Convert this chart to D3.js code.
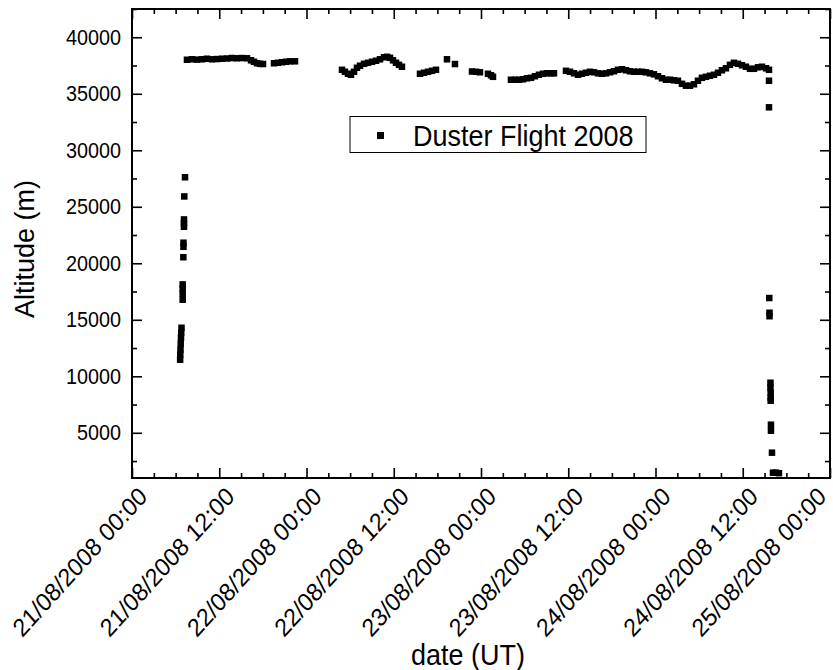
<!DOCTYPE html>
<html>
<head>
<meta charset="utf-8">
<script src="https://cdn.jsdelivr.net/npm/d3@7"></script>
<style>
  html, body { margin: 0; padding: 0; background: #fff; }
  text { font-family: "Liberation Sans", Arial, sans-serif; fill: #000; }
</style>
</head>
<body>
<svg id="chart" width="833" height="670"></svg>
<script>
// ---- data: hours after 21/08/2008 00:00 UT, altitude in metres ----
const hours = [
  // ascent
  6.62, 6.64, 6.67, 6.70, 6.74, 6.77, 6.81, 6.97, 6.97, 6.97, 6.97, 7.06, 7.08, 7.08, 7.15, 7.15, 7.15, 7.19, 7.29,
  // cruise day 1
  7.56, 8.25, 8.94, 9.63, 10.31, 11.00, 11.69, 12.38, 13.07, 13.75, 14.44, 15.13, 15.82, 16.37, 16.78, 17.19, 17.60, 18.02,
  19.53, 20.08, 20.63, 21.18, 21.73, 22.42,
  // day 2
  28.88, 29.29, 29.71, 30.12, 30.53, 30.94, 31.36, 31.91, 32.46, 33.01, 33.56, 34.11, 34.66, 35.07, 35.48, 35.90, 36.31, 36.72, 37.13,
  39.61, 40.16, 40.71, 41.26, 41.81,
  43.32, 44.42,
  46.76, 47.31, 47.86, 48.96, 49.37, 49.65,
  52.12, 52.67, 53.22, 53.77, 54.32, 54.88, 55.42, 55.97, 56.53, 57.07, 57.62, 58.04,
  // day 3 - 4
  59.69, 60.24, 60.79, 61.34, 61.89, 62.44, 62.99, 63.54, 64.09, 64.64, 65.19, 65.74, 66.29, 66.84, 67.39, 67.94,
  68.49, 69.04, 69.59, 70.14, 70.69, 71.24, 71.79, 72.34, 72.89, 73.44, 73.99, 74.54, 75.09, 75.64, 76.19, 76.74,
  77.29, 77.84, 78.39, 78.94, 79.49, 80.04, 80.59, 81.14, 81.69, 82.24, 82.79, 83.34, 83.89, 84.44, 84.99, 85.54,
  86.09, 86.64, 87.19, 87.61,
  // descent
  87.61, 87.61, 87.65, 87.68, 87.68, 87.81, 87.81, 87.84, 87.84, 87.84, 87.88, 87.88, 88.02, 88.16, 88.57, 88.98
];
const altitude = [
  11465, 11910, 12350, 12880, 13410, 13855, 14295, 16775, 17305, 17750, 18130, 20535, 21460, 21820, 23230, 23540, 23880, 25915, 27610,
  38010, 38050, 38020, 38050, 38100, 38050, 38070, 38100, 38120, 38160, 38140, 38160, 38140, 37960, 37830, 37700, 37650, 37630,
  37700, 37740, 37790, 37830, 37870, 37870,
  37120, 36945, 36770, 36680, 36945, 37300, 37480, 37650, 37740, 37830, 37920, 38050, 38230, 38270, 38180, 37960, 37740, 37560, 37390,
  36770, 36860, 36945, 37030, 37120,
  38050, 37630,
  36970, 36945, 36900, 36770, 36635, 36500,
  36240, 36240, 36240, 36280, 36370, 36410, 36550, 36680, 36770, 36810, 36810, 36810,
  37030, 36945, 36810, 36680, 36770, 36860, 36945, 36900, 36810, 36770, 36810, 36900, 36990, 37120, 37170, 37080,
  36990, 36945, 36945, 36945, 36900, 36810, 36720, 36550, 36370, 36240, 36240, 36190, 36150, 35880, 35710, 35710,
  35840, 36150, 36410, 36500, 36590, 36680, 36860, 37080, 37255, 37560, 37740, 37650, 37520, 37390, 37210, 37210,
  37340, 37390, 37255, 37120,
  36150, 33800, 16925, 15625, 15315, 9430, 8990, 8545, 8105, 7840, 5715, 5185, 3240, 1470, 1470, 1425
];
const xTickHours = [0, 12, 24, 36, 48, 60, 72, 84, 96];
const xTickLabels = ["21/08/2008 00:00", "21/08/2008 12:00", "22/08/2008 00:00", "22/08/2008 12:00",
  "23/08/2008 00:00", "23/08/2008 12:00", "24/08/2008 00:00", "24/08/2008 12:00", "25/08/2008 00:00"];
const yTicks = [5000, 10000, 15000, 20000, 25000, 30000, 35000, 40000];
const yDomain = [1000, 42500];
const seriesName = "Duster Flight 2008";
const xTitle = "date (UT)";
const yTitle = "Altitude (m)";

// ---- layout ----
const t0 = Date.UTC(2008, 7, 21, 0, 0, 0);
const toDate = h => new Date(t0 + h * 3600 * 1000);
const L = 132, R = 830, T = 9, B = 478;
const SX = 0.9; // horizontal text compression of the original
const svg = d3.select("#chart");

const x = d3.scaleUtc().domain([toDate(0), toDate(96)]).range([L, R]);
const y = d3.scaleLinear().domain(yDomain).range([B, T]);

const majorX = xTickHours.map(toDate);
const minorX = d3.range(0, 97, 3).filter(h => h % 12 !== 0).map(toDate);
const minorY = d3.range(2500, 42501, 5000);

// bottom axis
const gB = svg.append("g").attr("transform", `translate(0,${B})`);
gB.call(d3.axisBottom(x).tickValues(majorX).tickSize(-10).tickSizeOuter(0).tickFormat((d, i) => xTickLabels[i]));
gB.append("g").call(d3.axisBottom(x).tickValues(minorX).tickSize(-5).tickSizeOuter(0).tickFormat(""));
const nLab = xTickLabels.length;
gB.selectAll(".tick text")
  .attr("text-anchor", "end")
  .attr("x", null).attr("y", null).attr("dy", null)
  .attr("transform", (d, i) => `translate(${i === nLab - 1 ? -3 : 16},20) scale(${SX},1) rotate(-45)`)
  .style("font-size", "25.5px");

// top axis
const gT = svg.append("g").attr("transform", `translate(0,${T})`);
gT.call(d3.axisTop(x).tickValues(majorX).tickSize(-10).tickSizeOuter(0).tickFormat(""));
gT.append("g").call(d3.axisTop(x).tickValues(minorX).tickSize(-5).tickSizeOuter(0).tickFormat(""));

// left axis
const gL = svg.append("g").attr("transform", `translate(${L},0)`);
gL.call(d3.axisLeft(y).tickValues(yTicks).tickSize(-10).tickSizeOuter(0).tickPadding(11).tickFormat(d3.format("d")));
gL.append("g").call(d3.axisLeft(y).tickValues(minorY).tickSize(-5).tickSizeOuter(0).tickFormat(""));
gL.selectAll("text")
  .style("font-size", "22px")
  .attr("transform", function() { const xx = +d3.select(this).attr("x"); return `translate(${xx*(1-SX)},0) scale(${SX},1)`; });

// right axis
const gR = svg.append("g").attr("transform", `translate(${R},0)`);
gR.call(d3.axisRight(y).tickValues(yTicks).tickSize(-10).tickSizeOuter(0).tickFormat(""));
gR.append("g").call(d3.axisRight(y).tickValues(minorY).tickSize(-5).tickSizeOuter(0).tickFormat(""));

svg.selectAll(".domain").remove();
svg.selectAll(".tick line").attr("stroke", "#000").attr("stroke-width", 1.6);

// frame
svg.append("rect").attr("x", L).attr("y", T).attr("width", R - L).attr("height", B - T)
  .attr("fill", "none").attr("stroke", "#000").attr("stroke-width", 2);

// points
const pts = hours.map((h, i) => ({ t: toDate(h), a: altitude[i] }));
const ms = 6.5;
svg.append("g").selectAll("rect").data(pts).join("rect")
  .attr("x", d => x(d.t) - ms / 2).attr("y", d => y(d.a) - ms / 2)
  .attr("width", ms).attr("height", ms).attr("fill", "#000");

// legend
const lg = svg.append("g");
lg.append("rect").attr("x", 350).attr("y", 116.5).attr("width", 296).attr("height", 36)
  .attr("fill", "#fff").attr("stroke", "#000").attr("stroke-width", 1);
lg.append("rect").attr("x", 377).attr("y", 132).attr("width", 7).attr("height", 7).attr("fill", "#000");
lg.append("text").attr("transform", `translate(413,146) scale(${SX},1)`)
  .style("font-size", "30px").text(seriesName);

// axis titles
svg.append("text").attr("transform", `translate(468,665) scale(${SX},1)`)
  .attr("text-anchor", "middle").style("font-size", "30px").text(xTitle);
svg.append("text").attr("transform", `translate(34,249) rotate(-90)`)
  .attr("text-anchor", "middle").style("font-size", "27px").text(yTitle);
</script>
</body>
</html>
